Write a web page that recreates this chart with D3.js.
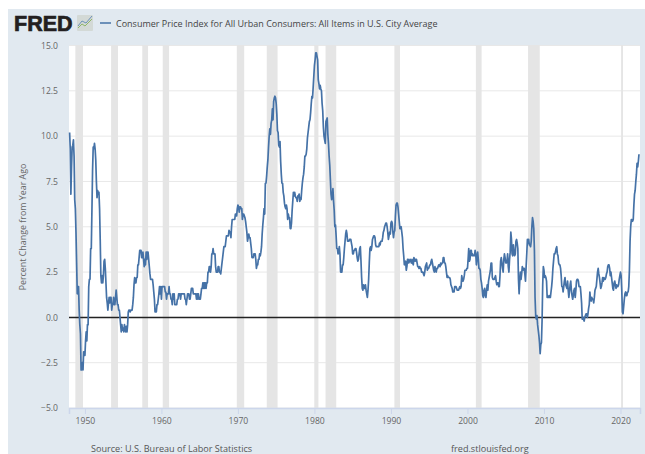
<!DOCTYPE html>
<html>
<head>
<meta charset="utf-8">
<script src="https://d3js.org/d3.v7.min.js"></script>
<style>
  html, body { margin: 0; padding: 0; background: #fff; overflow: hidden; }
  text { font-family: "Open Sans", sans-serif; }
</style>
</head>
<body>
<div id="chart"></div>
<script>
// Percent change from year ago, one row per year, Jan to Dec, starting 1948
const startYear = 1948;
const cpiChange = [
  10.2,9.3,6.8,8.3,9.4,9.5,9.8,8.9,6.5,6.0,4.7,3.0,
  1.3,1.7,1.7,0.4,-0.4,-0.9,-2.9,-2.9,-2.5,-2.9,-1.9,-2.1,
  -2.1,-1.3,-0.8,-1.3,-0.4,-0.4,1.7,2.1,2.1,3.8,3.8,5.9,
  8.1,9.4,9.3,9.6,9.3,8.7,7.5,6.6,7.0,6.8,6.9,6.0,
  4.3,2.3,1.9,2.3,1.9,2.3,3.1,3.2,2.7,1.9,1.1,0.8,
  0.4,0.8,1.1,0.8,1.1,1.1,0.4,0.7,0.7,1.1,0.7,0.7,
  1.1,1.5,1.1,0.7,0.7,0.4,0.4,0.0,-0.4,-0.8,-0.4,-0.7,
  -0.6,-0.8,-0.4,-0.6,-0.8,-0.5,-0.8,-0.4,0.3,0.4,0.4,0.3,
  0.4,0.4,0.4,0.7,1.1,1.8,2.2,1.9,1.9,2.2,2.2,2.9,
  2.9,3.3,3.7,3.7,3.7,3.3,3.3,3.6,3.2,2.8,3.2,2.9,
  3.6,3.2,3.6,3.6,3.2,2.8,2.4,2.1,2.1,2.1,2.1,1.8,
  1.4,1.0,0.3,0.3,0.3,0.7,0.7,1.0,1.3,1.7,1.3,1.7,
  1.0,1.7,1.7,1.7,1.7,1.7,1.4,1.4,1.0,1.3,1.3,1.3,
  1.7,1.3,1.3,1.0,1.0,0.7,1.3,1.0,1.3,0.7,0.7,0.7,
  0.7,1.0,1.0,1.3,1.3,1.3,1.0,1.3,1.3,1.3,1.3,1.3,
  1.3,1.0,1.0,0.7,1.0,1.3,1.3,1.3,1.0,1.0,1.3,1.6,
  1.6,1.6,1.3,1.3,1.3,1.3,1.3,1.0,1.3,1.0,1.3,1.0,
  1.0,1.0,1.3,1.6,1.6,1.9,1.6,1.9,1.6,1.9,1.6,1.9,
  1.9,2.5,2.5,2.8,2.8,2.5,2.8,3.5,3.5,3.8,3.5,3.5,
  3.5,2.8,2.5,2.5,2.5,2.8,2.8,2.5,2.5,2.4,2.7,3.0,
  3.3,3.6,3.9,3.9,3.9,4.2,4.5,4.5,4.5,4.5,4.8,4.7,
  4.7,4.4,5.0,5.4,5.4,5.4,5.4,5.4,5.7,5.7,5.6,6.0,
  6.2,6.1,5.8,6.1,6.1,6.0,6.0,5.4,5.7,5.7,5.6,5.5,
  5.3,5.0,4.7,4.2,4.4,4.6,4.4,4.4,4.1,3.8,3.3,3.3,
  3.3,3.5,3.5,3.5,3.2,2.7,2.9,2.9,3.2,3.2,3.5,3.4,
  3.6,3.9,4.6,5.1,5.5,6.0,5.7,7.4,7.4,7.8,8.3,8.7,
  9.4,10.0,10.4,10.1,10.7,10.9,11.5,10.9,11.9,12.1,12.2,12.1,
  11.8,11.2,10.3,10.2,9.5,9.4,9.7,8.6,7.9,7.4,7.4,6.9,
  6.7,6.3,6.1,6.0,6.2,6.0,5.4,5.7,5.5,5.5,4.9,4.9,
  5.2,5.9,6.4,6.9,6.7,6.9,6.7,6.6,6.6,6.4,6.7,6.7,
  6.8,6.4,6.6,6.5,7.0,7.4,7.7,7.9,8.3,8.9,8.9,9.0,
  9.3,9.9,10.2,10.5,10.8,10.9,11.3,11.8,12.2,12.1,12.7,13.3,
  13.9,14.2,14.6,14.6,14.4,14.2,13.1,12.9,12.6,12.8,12.6,12.5,
  11.8,11.4,10.5,10.0,9.8,9.6,10.8,10.9,11.0,10.1,9.6,8.9,
  8.4,7.6,6.8,6.5,6.7,7.1,6.4,5.9,5.0,5.1,4.5,3.8,
  3.8,3.5,3.6,3.9,3.5,2.5,2.5,2.5,2.9,2.9,3.3,3.8,
  4.2,4.6,4.8,4.6,4.2,4.2,4.2,4.3,4.3,4.3,4.1,3.9,
  3.5,3.5,3.7,3.7,3.8,3.8,3.6,3.3,3.1,3.2,3.5,3.8,
  3.9,3.1,2.2,1.6,1.5,1.8,1.6,1.6,1.8,1.5,1.3,1.1,
  1.5,2.1,3.0,3.8,3.9,3.7,3.9,4.3,4.4,4.5,4.5,4.4,
  4.0,3.9,3.9,3.9,3.9,3.9,4.1,4.0,4.2,4.2,4.2,4.4,
  4.7,4.8,5.0,5.1,5.2,5.2,5.0,4.7,4.3,4.5,4.7,4.6,
  5.2,5.3,5.2,4.7,4.4,4.7,4.8,5.6,6.2,6.3,6.3,6.1,
  5.7,5.3,4.9,4.9,5.0,4.7,4.4,3.8,3.4,2.9,3.0,3.1,
  2.6,2.8,3.2,3.2,3.0,3.1,3.2,3.1,3.0,3.2,3.0,2.9,
  3.3,3.2,3.1,3.2,3.2,3.0,2.8,2.8,2.7,2.8,2.7,2.7,
  2.5,2.5,2.5,2.4,2.3,2.5,2.8,2.9,3.0,2.6,2.7,2.7,
  2.8,2.9,2.9,3.1,3.2,3.0,2.8,2.6,2.5,2.8,2.6,2.5,
  2.7,2.7,2.8,2.9,2.9,2.8,3.0,2.9,3.0,3.0,3.3,3.3,
  3.0,3.0,2.8,2.5,2.2,2.3,2.2,2.2,2.2,2.1,1.8,1.7,
  1.6,1.4,1.4,1.4,1.7,1.7,1.7,1.6,1.5,1.5,1.5,1.6,
  1.7,1.6,1.7,2.3,2.1,2.0,2.1,2.3,2.6,2.6,2.6,2.7,
  2.7,3.2,3.8,3.1,3.2,3.7,3.7,3.4,3.5,3.4,3.4,3.4,
  3.7,3.5,2.9,3.3,3.6,3.2,2.7,2.7,2.6,2.1,1.9,1.6,
  1.2,1.1,1.5,1.6,1.2,1.1,1.5,1.8,1.5,2.0,2.2,2.4,
  2.6,3.0,3.0,2.2,2.1,2.1,2.1,2.2,2.3,2.0,1.8,1.9,
  1.9,1.7,1.7,2.3,3.1,3.3,3.0,2.7,2.5,3.2,3.5,3.3,
  3.0,3.0,3.1,3.5,2.8,2.5,3.2,3.6,4.7,4.3,3.5,3.4,
  4.0,3.6,3.4,3.5,4.2,4.3,4.1,3.8,2.1,1.3,2.0,2.5,
  2.1,2.4,2.8,2.6,2.7,2.7,2.4,2.0,2.8,3.5,4.3,4.1,
  4.3,4.0,4.0,3.9,4.2,5.0,5.5,5.3,4.9,3.7,1.1,0.1,
  -0.1,0.1,-0.4,-0.7,-1.0,-1.4,-2.0,-1.5,-1.4,-0.2,1.8,2.8,
  2.6,2.2,2.3,2.2,2.0,1.1,1.2,1.1,1.1,1.2,1.1,1.4,
  1.7,2.1,2.7,3.1,3.5,3.5,3.6,3.8,3.9,3.5,3.4,3.0,
  2.9,2.9,2.7,2.3,1.7,1.7,1.4,1.7,2.0,2.2,1.8,1.7,
  1.6,2.0,1.5,1.1,1.4,1.8,2.0,1.5,1.2,1.0,1.2,1.5,
  1.6,1.1,1.5,2.0,2.1,2.1,2.0,1.7,1.7,1.7,1.3,0.8,
  -0.1,0.0,-0.1,-0.2,0.0,0.1,0.2,0.2,0.0,0.2,0.5,0.7,
  1.4,1.0,0.9,1.1,1.0,1.0,0.8,1.1,1.5,1.6,1.7,2.1,
  2.5,2.7,2.4,2.2,1.9,1.6,1.7,1.9,2.2,2.0,2.2,2.1,
  2.1,2.2,2.4,2.5,2.8,2.9,2.9,2.7,2.3,2.5,2.2,1.9,
  1.6,1.5,1.9,2.0,1.8,1.6,1.8,1.7,1.7,1.8,2.1,2.3,
  2.5,2.3,1.5,0.3,0.2,0.6,1.0,1.3,1.4,1.2,1.2,1.4,
  1.4,1.7,2.6,4.2,5.0,5.4,5.4,5.3,5.4,6.2,6.8,7.0,
  7.5,7.9,8.5,8.3,8.6,9.0
];

// Recession shading, start and end as decimal years
const recessionStarts = [1948.75,1953.42,1957.5,1960.17,1969.85,1973.77,1979.98,1981.45,1990.45,2001.1,2007.92,2020.08];
const recessionEnds   = [1949.75,1954.32,1958.25,1961.0,1970.82,1975.18,1980.52,1982.85,1991.18,2001.85,2009.45,2020.33];

const yTicks = [-5,-2.5,0,2.5,5,7.5,10,12.5,15];
const xTicks = [1950,1960,1970,1980,1990,2000,2010,2020];

const seriesTitle = "Consumer Price Index for All Urban Consumers: All Items in U.S. City Average";
const yTitle = "Percent Change from Year Ago";
const sourceText = "Source: U.S. Bureau of Labor Statistics";
const siteText = "fred.stlouisfed.org";

const width = 645, height = 454;
const margin = { top: 45, right: 5, bottom: 46, left: 69 };

const svg = d3.select("#chart").append("svg")
    .attr("width", width)
    .attr("height", height)
    .style("display", "block");

// Page background, the top and left edges of the photo stay white
svg.append("rect")
    .attr("x", 8).attr("y", 9)
    .attr("width", width - 8).attr("height", height - 9)
    .attr("fill", "#e1e9f0");

svg.append("rect")
    .attr("x", margin.left).attr("y", margin.top)
    .attr("width", width - margin.left - margin.right)
    .attr("height", height - margin.top - margin.bottom)
    .attr("fill", "#fff");

const x = d3.scaleLinear()
    .domain([1947.92, 2022.55])
    .range([margin.left, width - margin.right]);

const y = d3.scaleLinear()
    .domain([-5, 15])
    .range([height - margin.bottom, margin.top + 0.5]);

const data = cpiChange.map((v, i) => ({ date: startYear + i / 12, value: v }));

// Gridlines
svg.append("g")
    .selectAll("line")
    .data(yTicks)
    .enter().append("line")
    .attr("x1", x.range()[0])
    .attr("x2", x.range()[1])
    .attr("y1", d => y(d))
    .attr("y2", d => y(d))
    .attr("stroke", "#e8e8e8")
    .attr("stroke-width", 1);

// Recessions
svg.append("g")
    .selectAll("rect")
    .data(recessionStarts)
    .enter().append("rect")
    .attr("x", d => x(d))
    .attr("y", margin.top)
    .attr("width", (d, i) => x(recessionEnds[i]) - x(d))
    .attr("height", height - margin.top - margin.bottom)
    .attr("fill", "#e5e5e5");

// Zero line
svg.append("line")
    .attr("x1", x.range()[0])
    .attr("x2", x.range()[1])
    .attr("y1", y(0))
    .attr("y2", y(0))
    .attr("stroke", "#222")
    .attr("stroke-width", 1.5);

const line = d3.line()
    .x(d => x(d.date))
    .y(d => y(d.value));

svg.append("path")
    .datum(data)
    .attr("fill", "none")
    .attr("stroke", "#4572a7")
    .attr("stroke-width", 1.7)
    .attr("stroke-linejoin", "round")
    .attr("d", line);

// X axis
const xAxis = svg.append("g")
    .attr("transform", `translate(0,${height - margin.bottom})`)
    .call(d3.axisBottom(x).tickValues(xTicks).tickFormat(d3.format("d")).tickSize(6).tickPadding(4));
xAxis.select(".domain").attr("stroke", "#ccd6eb").attr("stroke-width", 1.5);
xAxis.selectAll(".tick line").attr("stroke", "#ccd6eb");
xAxis.selectAll("text").attr("fill", "#666").style("font-size", "8.6px").style("font-family", "'Open Sans', sans-serif");

// Y axis
const yAxis = svg.append("g")
    .attr("transform", `translate(${margin.left},0)`)
    .call(d3.axisLeft(y).tickValues(yTicks).tickFormat(d3.format(".1f")).tickSize(0).tickPadding(11));
yAxis.select(".domain").remove();
yAxis.selectAll("text").attr("fill", "#666").style("font-size", "8.6px").style("font-family", "'Open Sans', sans-serif");

svg.append("text")
    .attr("transform", `translate(26,227) rotate(-90)`)
    .attr("text-anchor", "middle")
    .attr("fill", "#666")
    .style("font-size", "8.9px")
    .text(yTitle);

// Logo
svg.append("text")
    .attr("x", 14).attr("y", 31)
    .attr("fill", "#231f20")
    .style("font-family", "'Liberation Sans', sans-serif")
    .style("font-weight", "bold")
    .style("font-size", "21.5px")
    .attr("stroke", "#231f20")
    .attr("stroke-width", 0.7)
    .text("FRED");

const logo = svg.append("g").attr("transform", "translate(77,15)");
logo.append("rect").attr("width", 16).attr("height", 16).attr("rx", 1).attr("fill", "#d3d9d6");
logo.append("path").attr("d", "M1,13L5,9L8,11L15,4").attr("fill", "none").attr("stroke", "#8fb56a").attr("stroke-width", 1);
logo.append("path").attr("d", "M1,11L5,6L9,8L15,1").attr("fill", "none").attr("stroke", "#6d92b8").attr("stroke-width", 1);

// Legend
svg.append("line")
    .attr("x1", 100).attr("x2", 111)
    .attr("y1", 23).attr("y2", 23)
    .attr("stroke", "#4572a7")
    .attr("stroke-width", 1.5);

svg.append("text")
    .attr("x", 116).attr("y", 27)
    .attr("fill", "#444")
    .style("font-size", "9px")
    .text(seriesTitle);

// Footer, sits right on the bottom edge
svg.append("text")
    .attr("x", 91).attr("y", 451.5)
    .attr("fill", "#555")
    .style("font-size", "9.1px")
    .text(sourceText);

svg.append("text")
    .attr("x", 451).attr("y", 451.5)
    .attr("fill", "#555")
    .style("font-size", "9.1px")
    .text(siteText);
</script>
</body>
</html>
